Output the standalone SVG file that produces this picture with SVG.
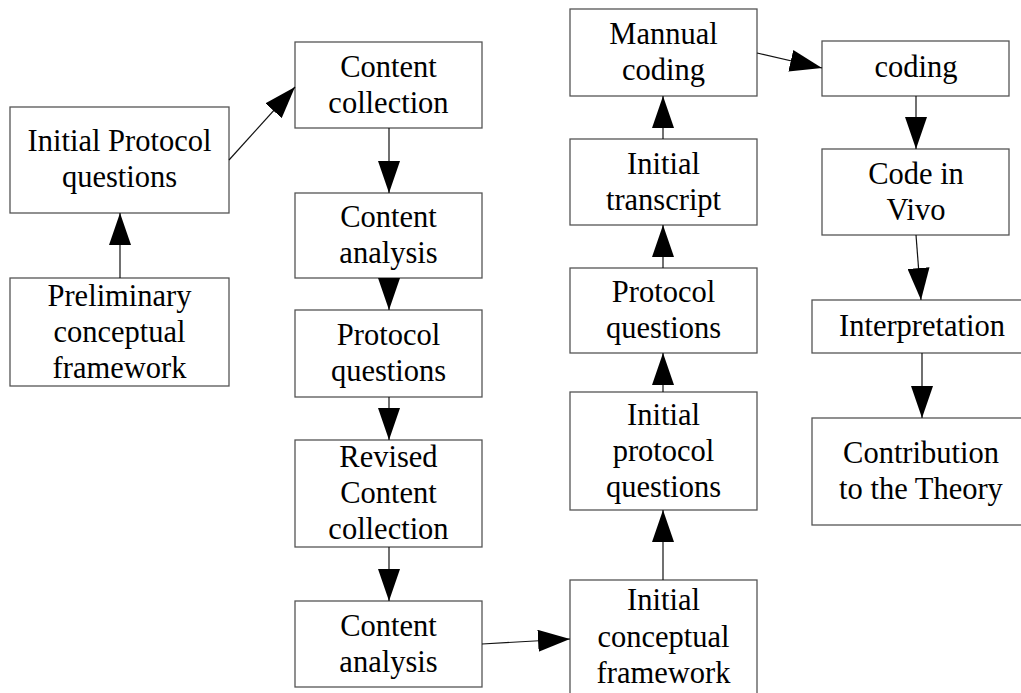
<svg xmlns="http://www.w3.org/2000/svg" width="1021" height="693" viewBox="0 0 1021 693">
  <style>
    .box { fill: #ffffff; stroke: #555555; stroke-width: 1.3; }
    .lbl { font-family: "Liberation Serif", "Times New Roman", serif; font-size: 30.5px; fill: #000000; text-anchor: middle; }
    .edge { stroke: #111111; stroke-width: 1.2; fill: none; marker-end: url(#head); }
  </style>
  <defs>
    <marker id="head" markerUnits="userSpaceOnUse" markerWidth="32" markerHeight="22" refX="32" refY="11" orient="auto">
      <path d="M0,0 L32,11 L0,22 Z" fill="#000000"/>
    </marker>
  </defs>
  <rect width="1021" height="693" fill="#ffffff"/>

  <!-- first column -->
  <g id="initial-protocol-questions">
    <rect class="box" x="10" y="107" width="219" height="106"/>
    <text class="lbl" x="119.5" y="150.5">Initial Protocol</text>
    <text class="lbl" x="119.5" y="186.5">questions</text>
  </g>
  <g id="preliminary-framework">
    <rect class="box" x="10" y="278" width="219" height="108"/>
    <text class="lbl" x="119.5" y="305.5">Preliminary</text>
    <text class="lbl" x="119.5" y="341.5">conceptual</text>
    <text class="lbl" x="119.5" y="377.5">framework</text>
  </g>

  <!-- second column -->
  <g id="content-collection">
    <rect class="box" x="295" y="42" width="187" height="86"/>
    <text class="lbl" x="388.5" y="76.5">Content</text>
    <text class="lbl" x="388.5" y="112.5">collection</text>
  </g>
  <g id="content-analysis">
    <rect class="box" x="295" y="193" width="187" height="85"/>
    <text class="lbl" x="388.5" y="227">Content</text>
    <text class="lbl" x="388.5" y="263">analysis</text>
  </g>
  <g id="protocol-questions">
    <rect class="box" x="295" y="310" width="187" height="87"/>
    <text class="lbl" x="388.5" y="345">Protocol</text>
    <text class="lbl" x="388.5" y="381">questions</text>
  </g>
  <g id="revised-content-collection">
    <rect class="box" x="295" y="440" width="187" height="107"/>
    <text class="lbl" x="388.5" y="467">Revised</text>
    <text class="lbl" x="388.5" y="503">Content</text>
    <text class="lbl" x="388.5" y="539">collection</text>
  </g>
  <g id="content-analysis-2">
    <rect class="box" x="295" y="601" width="187" height="86"/>
    <text class="lbl" x="388.5" y="635.5">Content</text>
    <text class="lbl" x="388.5" y="671.5">analysis</text>
  </g>

  <!-- third column -->
  <g id="initial-conceptual-framework">
    <rect class="box" x="570" y="580" width="187" height="130"/>
    <text class="lbl" x="663.5" y="610">Initial</text>
    <text class="lbl" x="663.5" y="646.5">conceptual</text>
    <text class="lbl" x="663.5" y="683">framework</text>
  </g>
  <g id="initial-protocol-questions-2">
    <rect class="box" x="570" y="392" width="187" height="118"/>
    <text class="lbl" x="663.5" y="424.5">Initial</text>
    <text class="lbl" x="663.5" y="460.5">protocol</text>
    <text class="lbl" x="663.5" y="496.5">questions</text>
  </g>
  <g id="protocol-questions-2">
    <rect class="box" x="570" y="268" width="187" height="85"/>
    <text class="lbl" x="663.5" y="302">Protocol</text>
    <text class="lbl" x="663.5" y="338">questions</text>
  </g>
  <g id="initial-transcript">
    <rect class="box" x="570" y="139" width="187" height="86"/>
    <text class="lbl" x="663.5" y="173.5">Initial</text>
    <text class="lbl" x="663.5" y="209.5">transcript</text>
  </g>
  <g id="mannual-coding">
    <rect class="box" x="570" y="9" width="187" height="87"/>
    <text class="lbl" x="663.5" y="44">Mannual</text>
    <text class="lbl" x="663.5" y="80">coding</text>
  </g>

  <!-- fourth column -->
  <g id="coding">
    <rect class="box" x="822" y="41" width="187" height="55"/>
    <text class="lbl" x="916" y="77">coding</text>
  </g>
  <g id="code-in-vivo">
    <rect class="box" x="822" y="149" width="187" height="86"/>
    <text class="lbl" x="916" y="183.5">Code in</text>
    <text class="lbl" x="916" y="219.5">Vivo</text>
  </g>
  <g id="interpretation">
    <rect class="box" x="812" y="300" width="215" height="53"/>
    <text class="lbl" x="922" y="336">Interpretation</text>
  </g>
  <g id="contribution">
    <rect class="box" x="812" y="418" width="215" height="107"/>
    <text class="lbl" x="921" y="463">Contribution</text>
    <text class="lbl" x="921" y="499">to the Theory</text>
  </g>

  <!-- connectors -->
  <g id="connectors">
    <line class="edge" x1="120" y1="278" x2="120" y2="213"/>
    <line class="edge" x1="229" y1="160" x2="295" y2="87"/>
    <line class="edge" x1="389" y1="128" x2="389" y2="193"/>
    <line class="edge" x1="389" y1="278" x2="389" y2="310"/>
    <line class="edge" x1="389" y1="397" x2="389" y2="440"/>
    <line class="edge" x1="389" y1="547" x2="389" y2="601"/>
    <line class="edge" x1="482" y1="644" x2="570" y2="639"/>
    <line class="edge" x1="663" y1="580" x2="663" y2="510"/>
    <line class="edge" x1="663" y1="392" x2="663" y2="353"/>
    <line class="edge" x1="663" y1="268" x2="663" y2="225"/>
    <line class="edge" x1="663" y1="139" x2="663" y2="96"/>
    <line class="edge" x1="757" y1="53" x2="822" y2="68"/>
    <line class="edge" x1="916" y1="96" x2="916" y2="149"/>
    <line class="edge" x1="916" y1="235" x2="921" y2="300"/>
    <line class="edge" x1="922" y1="353" x2="922" y2="418"/>
  </g>
</svg>
